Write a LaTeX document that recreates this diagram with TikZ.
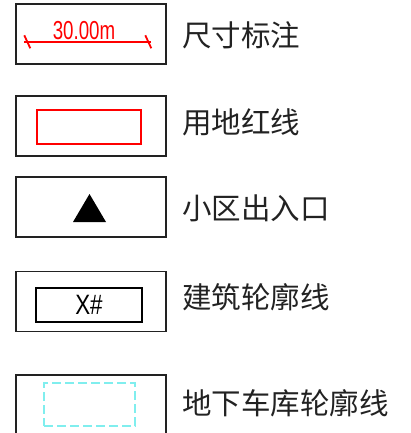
\documentclass[tikz,border=0pt]{standalone}
\usepackage{fontspec}
\setmainfont{Liberation Sans}
\newfontfamily\cjk{Noto Sans CJK SC}
\definecolor{ink}{HTML}{222222}
\definecolor{garage}{HTML}{80EEEE}
\begin{document}
\begin{tikzpicture}[x=1pt,y=-1pt,
  legbox/.style={draw=ink,line width=1.8pt,minimum width=150pt,minimum height=60pt,inner sep=0pt},
  legtext/.style={anchor=west,inner sep=0pt,text=ink,font=\cjk\fontsize{29.5}{32}\selectfont},
  redline/.style={draw=red,line width=2.2pt}]
\useasboundingbox (0,0) rectangle (411,433);
\clip (0,0) rectangle (411,433);
% boxes
\node[legbox] (b1) at (91,34) {};
\node[legbox] (b2) at (91,126) {};
\node[legbox] (b3) at (91,207) {};
\node[legbox] (b4) at (91,301.5) {};
\node[legbox] (b5) at (91,405) {};
% dimension sample
\coordinate (d1) at (24,42);
\coordinate (d2) at (151,42);
\draw[red,line width=1.8pt] (d1) -- (d2);
\draw[red,line width=1.8pt] (24.3,35.3) -- (30.3,48.3);
\draw[red,line width=1.8pt] (145.3,35.3) -- (151.3,48.3);
\node[text=red,inner sep=0pt,font=\fontsize{26}{28}\selectfont] (dt) at (84,31) {\scalebox{0.72}[1]{30.00m}};
% red property line
\node[redline,minimum width=104pt,minimum height=34pt,inner sep=0pt] (r2) at (89,127) {};
% entrance triangle
\fill[black] (73,222) -- (106,222) -- (89.5,194) -- cycle;
% building outline
\node[draw=black,line width=1.8pt,minimum width=106pt,minimum height=34pt,inner sep=0pt,font=\fontsize{28}{30}\selectfont] (r4) at (89,305) {\scalebox{0.8}[1]{X\#}};
% garage outline
\node[draw=garage,line width=2.4pt,dash pattern=on 9pt off 4pt,minimum width=91pt,minimum height=43pt,inner sep=0pt] (r5) at (89.5,404.5) {};
% labels
\node[legtext] (t1) at (182,35) {尺寸标注};
\node[legtext] (t2) at (182,122) {用地红线};
\node[legtext] (t3) at (182,208) {小区出入口};
\node[legtext] (t4) at (182,297) {建筑轮廓线};
\node[legtext] (t5) at (182,403) {地下车库轮廓线};
\end{tikzpicture}
\end{document}
